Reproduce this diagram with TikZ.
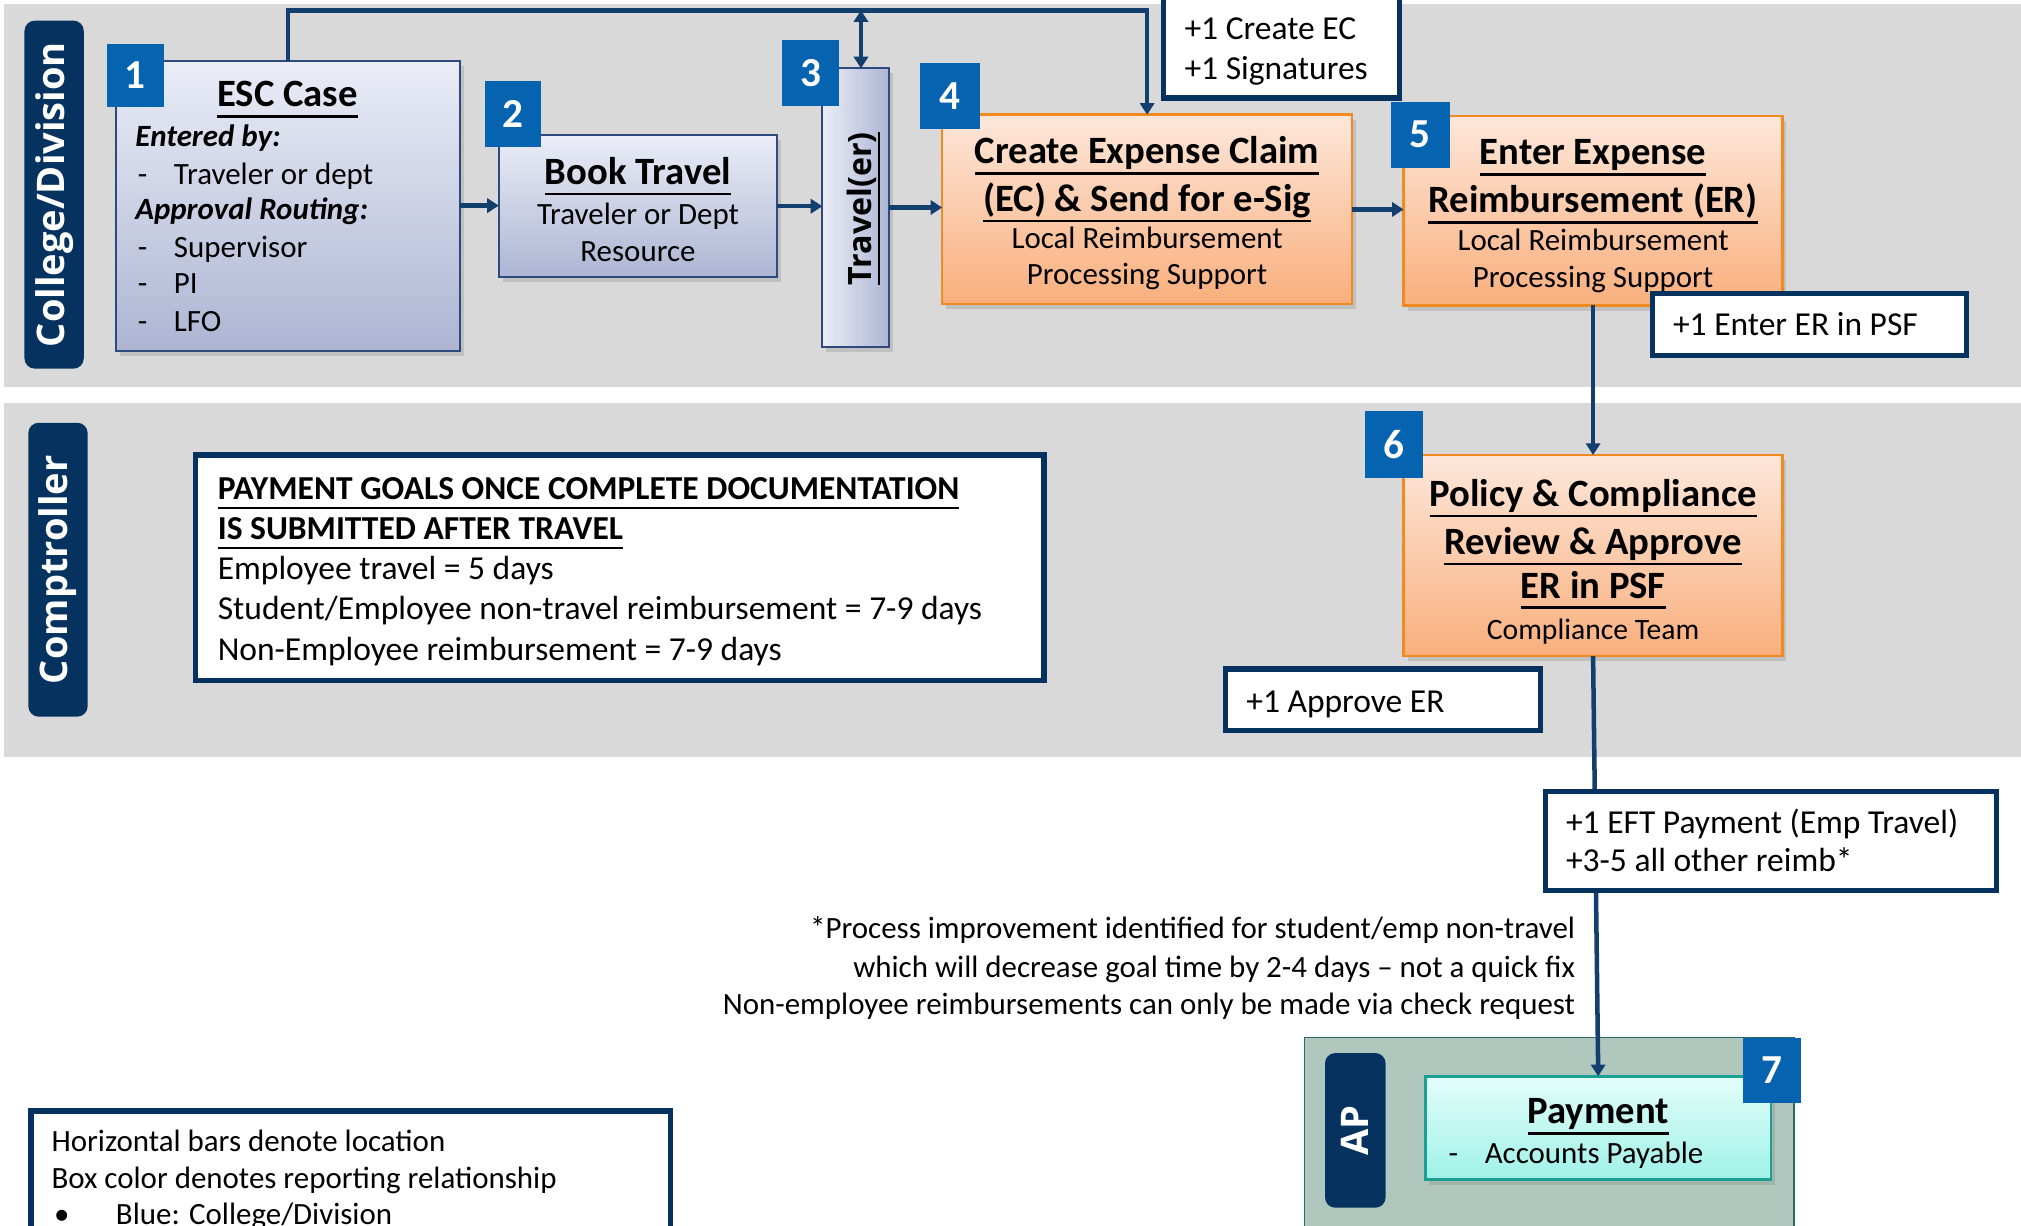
\documentclass[tikz,border=0pt]{standalone}
\usepackage{fontspec}
\setmainfont{Carlito}
\newfontfamily\lanefont{Open Sans}
\newcommand\uline[1]{\leavevmode\setbox0\hbox{#1}\rlap{\rule[-0.28em]{\wd0}{0.065em}}\box0}
\usetikzlibrary{arrows.meta,shadows,fit}
\definecolor{band}{HTML}{D9D9D9}
\definecolor{navy}{HTML}{05325F}
\definecolor{conn}{HTML}{123F6E}
\definecolor{badgeblue}{HTML}{0563B0}
\definecolor{bluetop}{HTML}{EAEDF7}
\definecolor{bluebot}{HTML}{ADB5D3}
\definecolor{blueedge}{HTML}{2E4A7D}
\definecolor{orgtop}{HTML}{FDE7DA}
\definecolor{orgbot}{HTML}{F9AF7D}
\definecolor{orgedge}{HTML}{F28A22}
\definecolor{cyntop}{HTML}{E4FDF9}
\definecolor{cynbot}{HTML}{9FF2E8}
\definecolor{cynedge}{HTML}{1AA193}
\definecolor{apband}{HTML}{B0C7BE}
\definecolor{apedge}{HTML}{2A6A62}
\newcommand\dashitem[1]{\makebox[28pt][l]{-}#1}
\begin{document}
\begin{tikzpicture}[x=1pt,y=-1pt,
  every node/.style={inner sep=0pt, outer sep=0pt},
  bandbox/.style={fill=band, draw=none},
  lanebox/.style={fill=navy, draw=none, rounded corners=8pt},
  lanetext/.style={text=white, rotate=90, anchor=center, font=\lanefont\bfseries\fontsize{29.5}{33}\selectfont},
  shadowed/.style={drop shadow={opacity=0.28, shadow xshift=3pt, shadow yshift=-4pt}},
  bluebox/.style={top color=bluetop, bottom color=bluebot, draw=blueedge, line width=1.5pt, shadowed},
  orangebox/.style={top color=orgtop, bottom color=orgbot, draw=orgedge, line width=2pt, shadowed},
  cyanbox/.style={top color=cyntop, bottom color=cynbot, draw=cynedge, line width=2pt, shadowed},
  badge/.style={fill=badgeblue, draw=none},
  badgetext/.style={text=white, anchor=center, font=\bfseries\fontsize{32}{36}\selectfont},
  callout/.style={fill=white, draw=navy, line width=4pt},
  body/.style={font=\fontsize{24}{28}\selectfont, yshift=-8pt},
  bodyb/.style={font=\fontsize{26}{31}\selectfont, yshift=-8.5pt},
  goalhead/.style={font=\bfseries\fontsize{26}{31}\selectfont, yshift=-8.5pt},
  ttl/.style={font=\bfseries\fontsize{30}{36}\selectfont, yshift=-10pt},
  bi/.style={font=\bfseries\itshape\fontsize{24}{28}\selectfont, yshift=-8pt},
  cline/.style={draw=conn, line width=3.5pt},
  flowarrow/.style={-{Triangle[width=11pt,length=9pt]}},
]
\useasboundingbox (0,0) rectangle (1568,951);
\clip (0,0) rectangle (1568,951);

% location bands
\node[bandbox, fit={(3,3) (1568,300)}] (band1) {};
\node[bandbox, fit={(3,313) (1568,587)}] (band2) {};
\node[fill=apband, draw=apedge, line width=1.2pt, fit={(1012,805) (1392,970)}] (band3) {};

% lane labels
\node[lanebox, fit={(19,16) (65,286)}] (lane1) {};
\node[lanetext] (lane1t) at (lane1.center) {College/Division};
\node[lanebox, fit={(22,328) (68,556)}] (lane2) {};
\node[lanetext] (lane2t) at (lane2.center) {Comptroller};
\node[lanebox, fit={(1028,817) (1075,937)}] (lane3) {};
\node[lanetext] (lane3t) at (lane3.center) {AP};

% process boxes
\node[bluebox, fit={(90,47) (357,272)}] (b1) {};
\node[bluebox, fit={(387,105) (603,215)}] (b2) {};
\node[draw=blueedge, line width=1.5pt, left color=bluetop, right color=bluebot, shadowed, fit={(638,53) (690,269)}] (b3) {};
\node[orangebox, fit={(731,89) (1049,236)}] (b4) {};
\node[orangebox, fit={(1089,90) (1383,237)}] (b5) {};
\node[orangebox, fit={(1089,353) (1383,509)}] (b6) {};
\node[cyanbox, fit={(1106,835) (1374,915)}] (b7) {};

% connectors
\coordinate (topline) at (0,8);
\draw[cline, flowarrow] (b1.north) -- (b1.north |- topline) -- (b4.north |- topline) -- (b4.north);
\draw[cline, {Triangle[width=11pt,length=9pt]}-{Triangle[width=11pt,length=9pt]}] ([xshift=4pt]b3.north |- topline) -- ([xshift=4pt]b3.north);
\draw[cline, flowarrow] (b1.east) -- (b1.east -| b2.west);
\draw[cline, flowarrow] (b2.east) -- (b2.east -| b3.west);
\draw[cline, flowarrow] (b3.east) -- (b3.east -| b4.west);
\draw[cline, flowarrow] (b4.east) -- (b4.east -| b5.west);
\draw[cline, flowarrow] (b5.south) -- (b6.north);
\draw[cline, flowarrow] (b6.south) -- (b7.north);

% box texts
\node[ttl, anchor=base] (t1a) at (223,73) {\uline{ESC Case}};
\node[bi, anchor=base west] (t1b) at (105,106) {Entered by:};
\node[body, anchor=base west] (t1c) at (107,135) {\dashitem{Traveler or dept}};
\node[bi, anchor=base west] (t1d) at (105,162) {Approval Routing:};
\node[body, anchor=base west] (t1e) at (107,192) {\dashitem{Supervisor}};
\node[body, anchor=base west] (t1f) at (107,220) {\dashitem{PI}};
\node[body, anchor=base west] (t1g) at (107,249) {\dashitem{LFO}};

\node[ttl, anchor=base] (t2a) at (495,133) {\uline{Book Travel}};
\node[body, anchor=base] (t2b) at (495,166) {Traveler or Dept};
\node[body, anchor=base] (t2c) at (495,195) {Resource};

\node[rotate=90, anchor=center, font=\lanefont\bfseries\fontsize{25}{29}\selectfont] (t3a) at (670,162) {\uline{Travel(er)}};

\node[ttl, anchor=base] (t4a) at (890,117) {\uline{Create Expense Claim}};
\node[ttl, anchor=base] (t4b) at (890,154) {\uline{(EC) \& Send for e-Sig}};
\node[body, anchor=base] (t4c) at (890,185) {Local Reimbursement};
\node[body, anchor=base] (t4d) at (890,213) {Processing Support};

\node[ttl, anchor=base] (t5a) at (1236,118) {\uline{Enter Expense}};
\node[ttl, anchor=base] (t5b) at (1236,155) {\uline{Reimbursement (ER)}};
\node[body, anchor=base] (t5c) at (1236,186) {Local Reimbursement};
\node[body, anchor=base] (t5d) at (1236,215) {Processing Support};

\node[ttl, anchor=base] (t6a) at (1236,383) {\uline{Policy \& Compliance}};
\node[ttl, anchor=base] (t6b) at (1236,420) {\uline{Review \& Approve}};
\node[ttl, anchor=base] (t6c) at (1236,454) {\uline{ER in PSF}};
\node[body, anchor=base, font=\fontsize{23}{27}\selectfont] (t6d) at (1236,488) {Compliance Team};

\node[ttl, anchor=base] (t7a) at (1240,862) {\uline{Payment}};
\node[body, anchor=base west] (t7b) at (1124,895) {\dashitem{Accounts Payable}};

% number badges
\node[badge, fit={(83,34) (127,83)}] (n1) {};
\node[badgetext] (n1t) at (n1.center) {1};
\node[badge, fit={(376,63) (420,114)}] (n2) {};
\node[badgetext] (n2t) at (n2.center) {2};
\node[badge, fit={(607,31) (651,82)}] (n3) {};
\node[badgetext] (n3t) at (n3.center) {3};
\node[badge, fit={(714,49) (760,100)}] (n4) {};
\node[badgetext] (n4t) at (n4.center) {4};
\node[badge, fit={(1079,79) (1125,130)}] (n5) {};
\node[badgetext] (n5t) at (n5.center) {5};
\node[badge, fit={(1059,319) (1104,371)}] (n6) {};
\node[badgetext] (n6t) at (n6.center) {6};
\node[badge, fit={(1352,805) (1397,856)}] (n7) {};
\node[badgetext] (n7t) at (n7.center) {7};

% callouts
\node[callout, fit={(903,-20) (1086,76)}] (c1) {};
\node[bodyb, anchor=base west] (c1a) at (919,22) {+1 Create EC};
\node[bodyb, anchor=base west] (c1b) at (919,53) {+1 Signatures};
\node[callout, fit={(1282,228) (1526,276)}] (c2) {};
\node[bodyb, anchor=base west] (c2a) at (1298,252) {+1 Enter ER in PSF};
\node[callout, fit={(951,519) (1195,567)}] (c3) {};
\node[bodyb, anchor=base west] (c3a) at (967,544) {+1 Approve ER};
\node[callout, fit={(1199,614) (1549,691)}] (c4) {};
\node[bodyb, anchor=base west] (c4a) at (1215,638) {+1 EFT Payment (Emp Travel)};
\node[bodyb, anchor=base west] (c4b) at (1215,668) {+3-5 all other reimb*};

% payment goals
\node[callout, fit={(152,353) (810,528)}] (goals) {};
\node[goalhead, anchor=base west] (g1) at (169,379) {\uline{PAYMENT GOALS ONCE COMPLETE DOCUMENTATION}};
\node[goalhead, anchor=base west] (g2) at (169,410) {\uline{IS SUBMITTED AFTER TRAVEL}};
\node[bodyb, anchor=base west] (g3) at (169,441) {Employee travel = 5 days};
\node[bodyb, anchor=base west] (g4) at (169,472) {Student/Employee non-travel reimbursement = 7-9 days};
\node[bodyb, anchor=base west] (g5) at (169,504) {Non-Employee reimbursement = 7-9 days};

% footnote
\node[body, anchor=base east] (f1) at (1222,720) {*Process improvement identified for student/emp non-travel};
\node[body, anchor=base east] (f2) at (1222,750) {which will decrease goal time by 2-4 days -- not a quick fix};
\node[body, anchor=base east] (f3) at (1222,779) {Non-employee reimbursements can only be made via check request};

% legend
\node[callout, fit={(24,862) (520,990)}] (legend) {};
\node[body, anchor=base west] (l1) at (40,885) {Horizontal bars denote location};
\node[body, anchor=base west] (l2) at (40,914) {Box color denotes reporting relationship};
\node[body, anchor=base west] (l3) at (42,942) {\makebox[48pt][l]{\textbullet}Blue: College/Division};
\end{tikzpicture}
\end{document}
